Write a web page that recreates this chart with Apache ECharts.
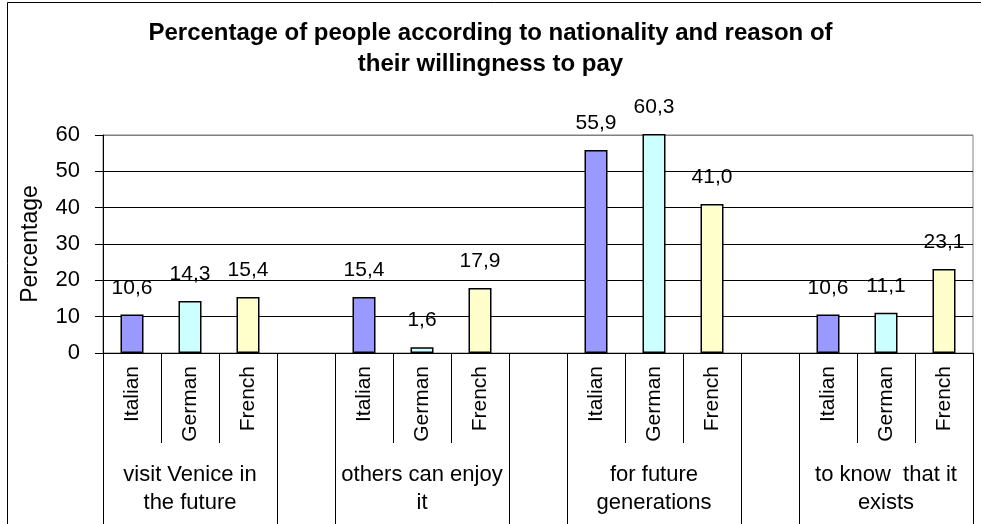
<!DOCTYPE html>
<html>
<head>
<meta charset="utf-8">
<script src="https://cdn.jsdelivr.net/npm/echarts@6/dist/echarts.min.js"></script>
<style>
  html, body { margin: 0; padding: 0; background: #fff; }
  #chart { width: 981px; height: 524px; }
</style>
</head>
<body>
<div id="chart"></div>
<script>
// Reasons for willingness to pay, by nationality (percent)
const reasons = ['visit Venice in\nthe future', 'others can enjoy\nit', 'for future\ngenerations', 'to know  that it\nexists'];
const nationalities = ['Italian', 'German', 'French'];
const italian = [10.6, 15.4, 55.9, 10.6];
const german  = [14.3, 1.6, 60.3, 11.1];
const french  = [15.4, 17.9, 41.0, 23.1];
const yTicks = [0, 10, 20, 30, 40, 50, 60];

const seriesValues = [italian, german, french];
const seriesColors = ['#9999FF', '#CCFFFF', '#FFFFCC'];

// Each reason takes three slots (one per nationality) followed by an empty spacer slot
const slotsPerGroup = nationalities.length + 1;
const slotCount = reasons.length * slotsPerGroup - 1;
const innerLabels = [];
const outerLabels = [];
for (let i = 0; i < slotCount; i++) {
  const g = Math.floor(i / slotsPerGroup);
  const n = i % slotsPerGroup;
  innerLabels.push(n < nationalities.length ? nationalities[n] : '');
  outerLabels.push(n === 1 ? reasons[g] : '');
}

const font = 'Liberation Sans, Arial, sans-serif';
const fmt = v => v.toFixed(1).replace('.', ',');

const series = seriesValues.map((vals, n) => {
  const data = new Array(slotCount).fill('-');
  vals.forEach((v, g) => { data[g * slotsPerGroup + n] = v; });
  return {
    name: nationalities[n],
    type: 'bar',
    data: data,
    barWidth: 23,
    barGap: '-100%',
    clip: false,
    itemStyle: { color: seriesColors[n], borderColor: '#000', borderWidth: 1.5 },
    label: {
      show: true, position: 'top', distance: 16,
      color: '#000', fontFamily: font, fontSize: 21,
      formatter: p => fmt(p.value)
    }
  };
});

const chart = echarts.init(document.getElementById('chart'), null, { renderer: 'canvas' });
chart.setOption({
  animation: false,
  backgroundColor: '#fff',
  title: {
    text: 'Percentage of people according to nationality and reason of\ntheir willingness to pay',
    left: 'center', top: 13,
    textStyle: { fontFamily: font, fontSize: 24, fontWeight: 'bold', color: '#000', lineHeight: 31 }
  },
  graphic: [{
    type: 'rect', silent: true, z: -1,
    shape: { x: 7.5, y: 2.5, width: 1000, height: 600 },
    style: { fill: null, stroke: '#000', lineWidth: 1 }
  }],
  grid: {
    left: 103, right: 8, top: 135, bottom: 171,
    show: true, borderColor: '#808080', borderWidth: 1, backgroundColor: 'transparent'
  },
  xAxis: [{
    type: 'category',
    data: innerLabels,
    position: 'bottom',
    axisLine: { show: true, lineStyle: { color: '#000', width: 1 } },
    axisTick: { show: true, length: 90, lineStyle: { color: '#000', width: 1 } },
    axisLabel: {
      rotate: 90, margin: 13, interval: 0,
      fontFamily: font, fontSize: 21, color: '#000'
    }
  }, {
    type: 'category',
    data: outerLabels,
    position: 'bottom',
    axisLine: { show: false },
    axisTick: {
      show: true, length: 171,
      interval: (i) => (i % slotsPerGroup === 0) || (i % slotsPerGroup === slotsPerGroup - 1),
      lineStyle: { color: '#000', width: 1 }
    },
    axisLabel: {
      interval: 0, margin: 108, lineHeight: 28,
      fontFamily: font, fontSize: 22, color: '#000', align: 'center'
    }
  }],
  yAxis: {
    type: 'value',
    min: yTicks[0], max: yTicks[yTicks.length - 1], interval: yTicks[1] - yTicks[0],
    name: 'Percentage', nameLocation: 'middle', nameGap: 61, nameRotate: 90,
    nameTextStyle: { fontFamily: font, fontSize: 23, color: '#000' },
    axisLine: { show: true, lineStyle: { color: '#000', width: 1 } },
    axisTick: { show: true, length: 8, lineStyle: { color: '#000' } },
    axisLabel: { margin: 23, fontFamily: font, fontSize: 22, color: '#000' },
    splitLine: {
      show: true,
      lineStyle: { color: ['#000', '#000', '#000', '#000', '#000', '#000', '#808080'], width: 1 }
    }
  },
  series: series
});
</script>
</body>
</html>
